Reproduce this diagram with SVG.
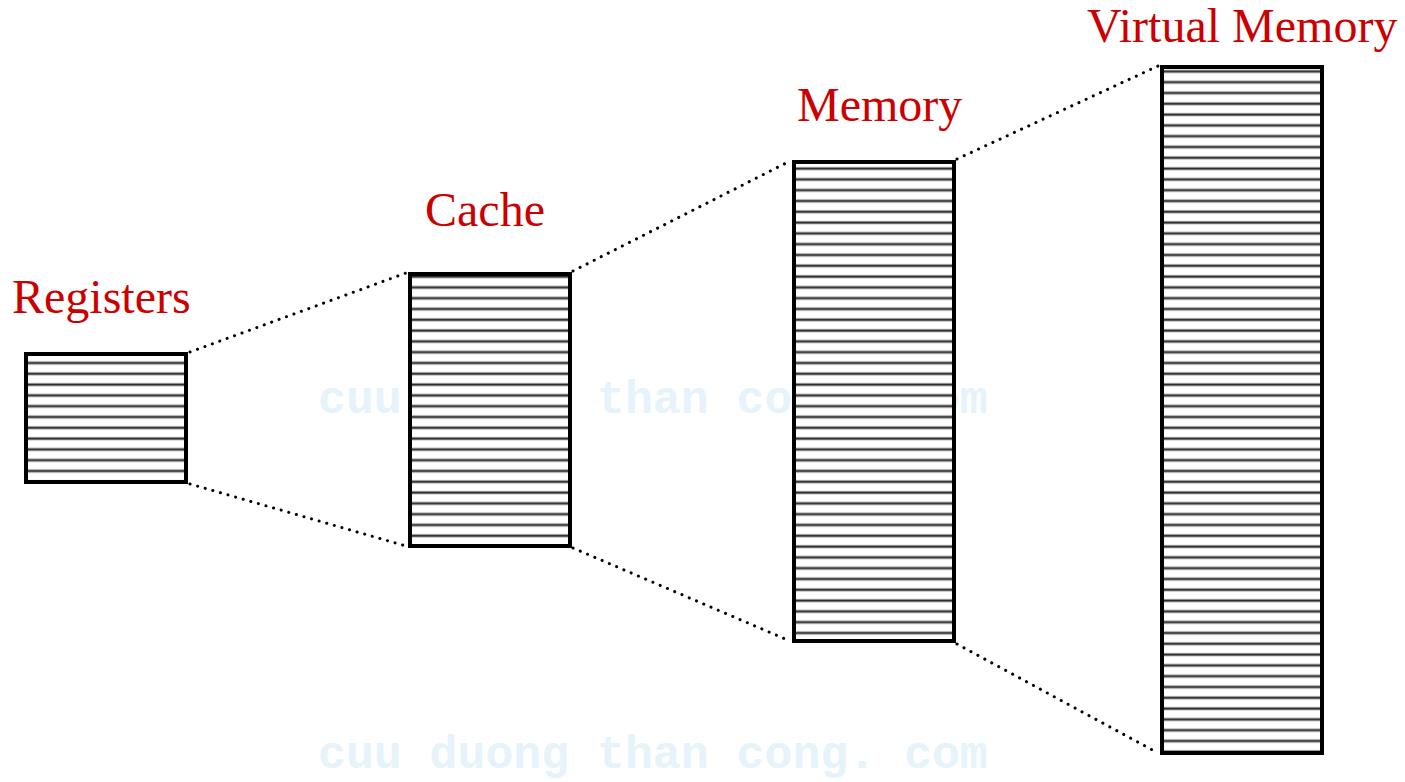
<svg xmlns="http://www.w3.org/2000/svg" width="1405" height="782" viewBox="0 0 1405 782">
<style>
.lbl{font-family:"Liberation Serif","Times New Roman",serif;font-size:48px;fill:#cc0000}
.wm{font-family:"Liberation Mono","Courier New",monospace;font-size:46.5px;font-weight:bold;fill:#e6f3fb}
.box{stroke:#000;stroke-width:4}
.dot{stroke:#000;stroke-width:3;stroke-dasharray:0.1 7.8;stroke-linecap:round;fill:none}
</style>
<defs>
<pattern id="stripes" patternUnits="userSpaceOnUse" width="20" height="10.8" x="0" y="2">
<rect width="20" height="10.8" fill="#fff"/>
<rect y="2.8" width="20" height="3.6" fill="#b4b4b4"/>
<rect y="3.7" width="20" height="1.8" fill="#2a2a2a"/>
</pattern>
</defs>
<rect width="1405" height="782" fill="#fff"/>
<g id="watermark">
<text class="wm" x="318" y="413">cuu duong than cong. com</text>
<text class="wm" x="318" y="768">cuu duong than cong. com</text>
</g>
<g id="connectors">
<line class="dot" x1="190" y1="352" x2="406" y2="273"/>
<line class="dot" x1="190" y1="484" x2="406" y2="546"/>
<line class="dot" x1="573" y1="271" x2="790" y2="161"/>
<line class="dot" x1="573" y1="548" x2="790" y2="641"/>
<line class="dot" x1="957" y1="159" x2="1158" y2="66"/>
<line class="dot" x1="957" y1="644" x2="1158" y2="753"/>
</g>
<g id="registers">
<rect class="box" x="26" y="354" width="160" height="128" fill="url(#stripes)"/>
<text class="lbl" x="12" y="313">Registers</text>
</g>
<g id="cache">
<rect class="box" x="410" y="274" width="160" height="272" fill="url(#stripes)"/>
<text class="lbl" x="425" y="226">Cache</text>
</g>
<g id="memory">
<rect class="box" x="794" y="162" width="160" height="479" fill="url(#stripes)"/>
<text class="lbl" x="797" y="121">Memory</text>
</g>
<g id="virtual-memory">
<rect class="box" x="1162" y="67" width="160" height="686" fill="url(#stripes)"/>
<text class="lbl" x="1087" y="42">Virtual Memory</text>
</g>
</svg>
